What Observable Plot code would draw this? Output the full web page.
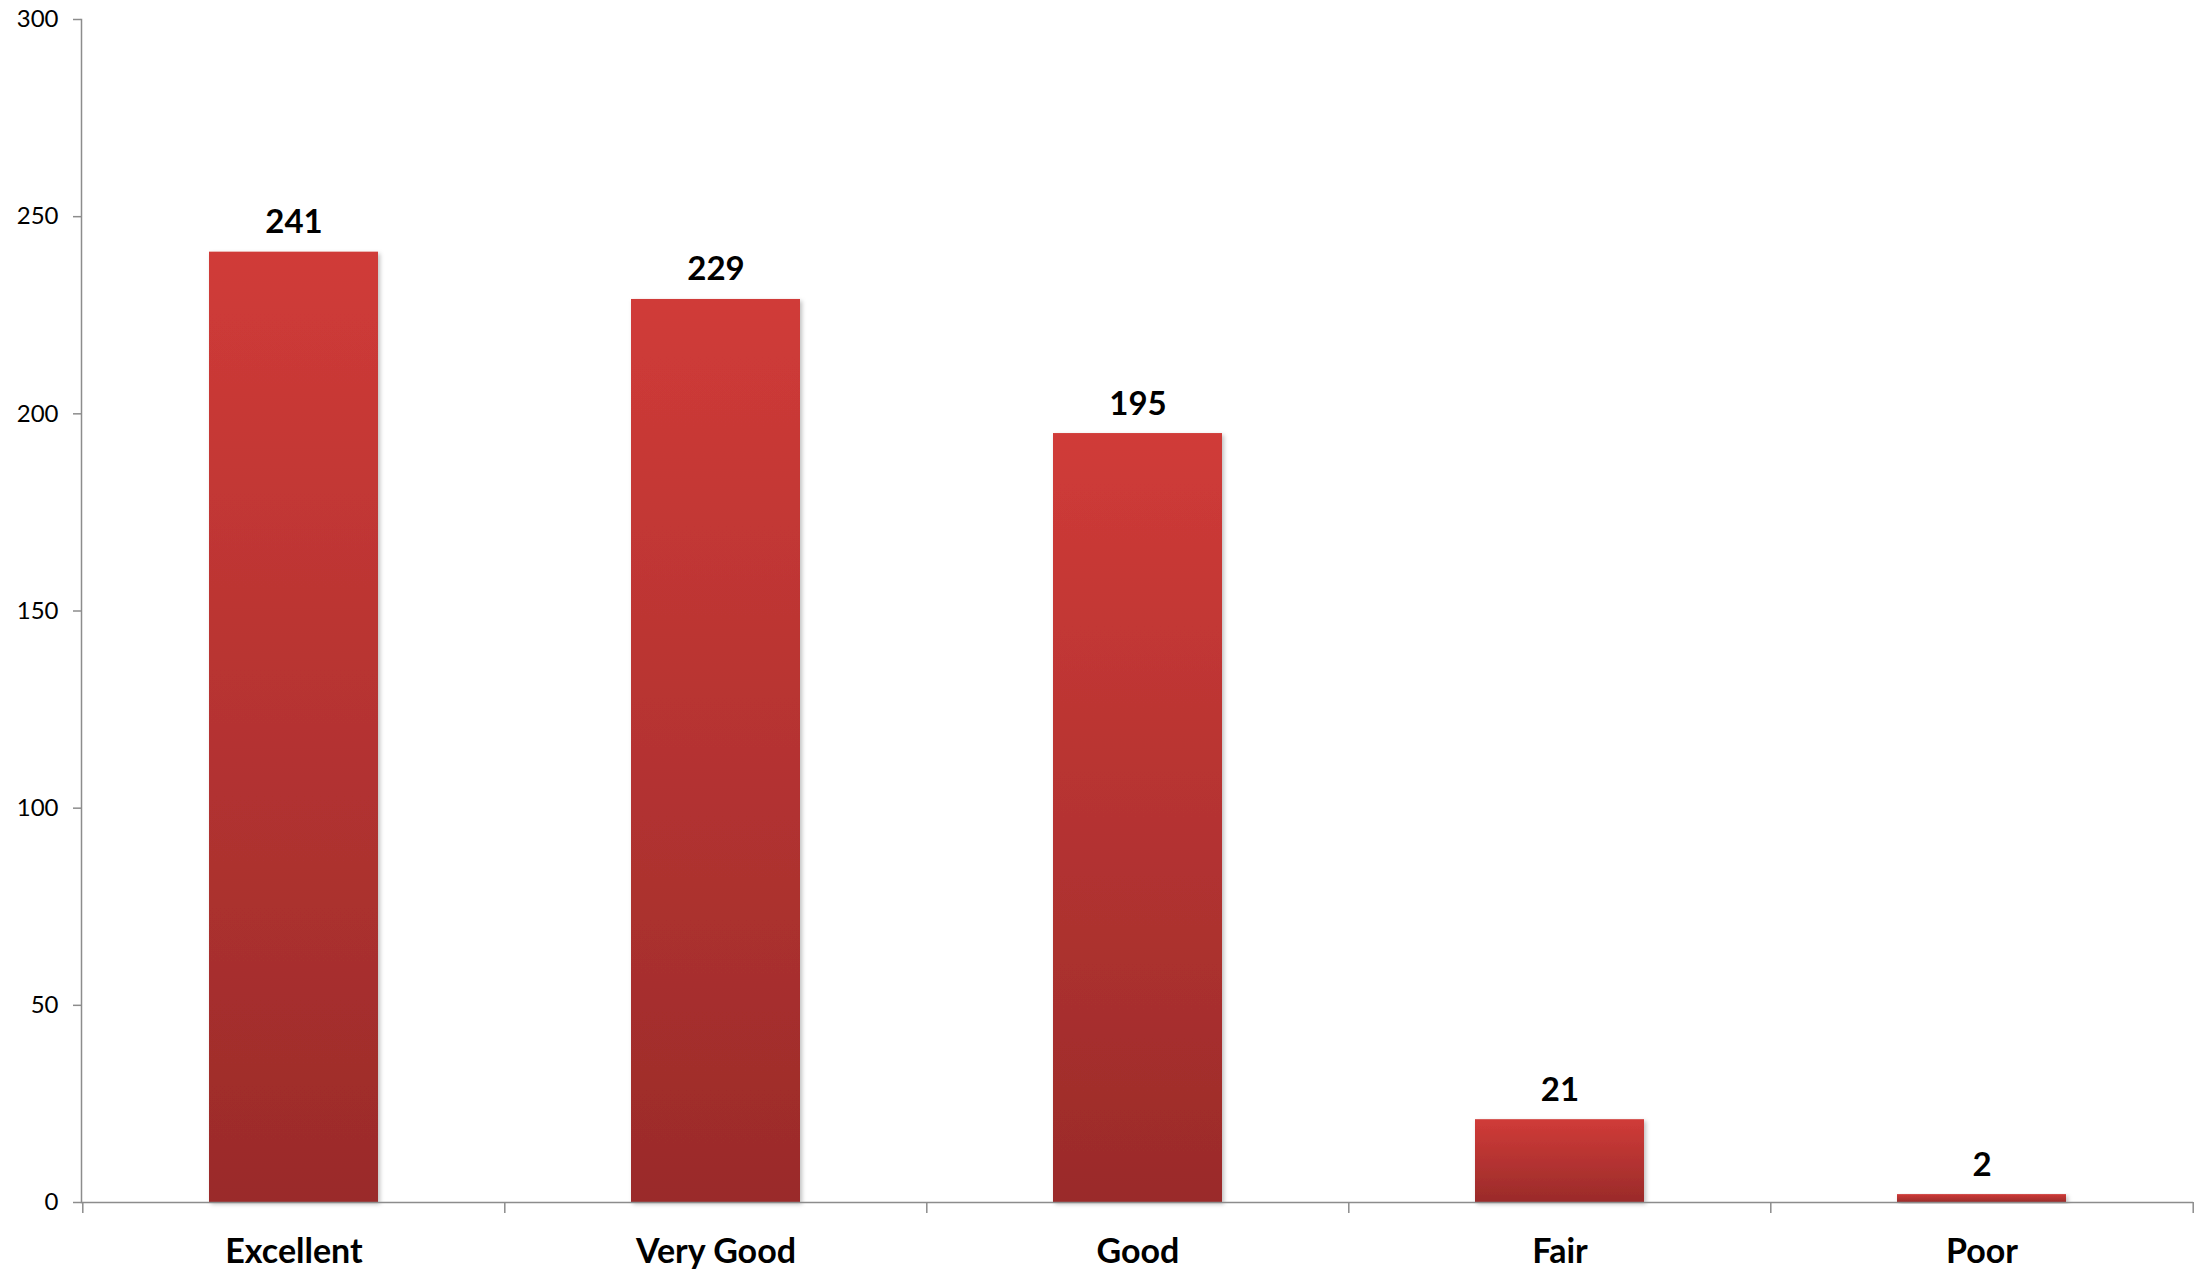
<!DOCTYPE html>
<html>
<head>
<meta charset="utf-8">
<script src="https://cdn.jsdelivr.net/npm/d3@7"></script>
<script src="https://cdn.jsdelivr.net/npm/@observablehq/plot@0.6"></script>
<style>
  html, body { margin: 0; padding: 0; background: #fff; }
  #chart svg { display: block; }
</style>
</head>
<body>
<div id="chart"></div>
<script>
const categories = ["Excellent", "Very Good", "Good", "Fair", "Poor"];
const counts = [241, 229, 195, 21, 2];
const yTicks = [0, 50, 100, 150, 200, 250, 300];

const data = categories.map((c, i) => ({category: c, count: counts[i]}));

const width = 2199, height = 1270;
const marginLeft = 81, marginRight = 6, marginTop = 19, marginBottom = 68;
const step = (width - marginLeft - marginRight) / categories.length;
const axisColor = "#8c8c8c";
const font = "Lato, 'Open Sans', sans-serif";

const plot = Plot.plot({
  width, height, marginLeft, marginRight, marginTop, marginBottom,
  style: {fontFamily: font, background: "#fff", color: "#000"},
  x: {domain: categories, paddingInner: 0.6, paddingOuter: 0.3, label: null},
  y: {domain: [0, 300], label: null},
  marks: [
    Plot.barY(data, {x: "category", y: "count", fill: "url(#barGrad)"}),
    Plot.ruleY([0], {stroke: axisColor, strokeWidth: 1.5}),
    Plot.frame({anchor: "left", stroke: axisColor, strokeWidth: 1.5}),
    Plot.axisY({ticks: yTicks, tickSize: 8, tickPadding: 15, fontSize: 24, stroke: axisColor, strokeWidth: 1.5, fill: "#000", label: null, tickFormat: d => String(d)}),
    Plot.axisX({ticks: categories, tickSize: 11, dx: -step / 2, text: null, stroke: axisColor, strokeWidth: 1.5, label: null}),
    Plot.axisX({ticks: [categories[categories.length - 1]], tickSize: 11, dx: step / 2, text: null, stroke: axisColor, strokeWidth: 1.5, label: null}),
    Plot.axisX({tickSize: 0, tickPadding: 36, fontSize: 34, fontWeight: "bold", fill: "#000", label: null}),
    Plot.text(data, {x: "category", y: "count", text: d => String(d.count), lineAnchor: "bottom", dy: -19, fontSize: 33, fontWeight: "bold", fill: "#000"})
  ]
});

const svg = d3.select(plot);
const defs = svg.insert("defs", ":first-child");
const grad = defs.append("linearGradient").attr("id", "barGrad").attr("x1", 0).attr("y1", 0).attr("x2", 0).attr("y2", 1);
grad.append("stop").attr("offset", "0%").attr("stop-color", "#d03b38");
grad.append("stop").attr("offset", "100%").attr("stop-color", "#9a2b2a");
const filt = defs.append("filter").attr("id", "barShadow").attr("x", "-10%").attr("y", "-10%").attr("width", "130%").attr("height", "130%");
filt.append("feDropShadow").attr("dx", 2).attr("dy", 2).attr("stdDeviation", 2).attr("flood-color", "#000").attr("flood-opacity", 0.25);
svg.selectAll("g[aria-label='bar'] rect").attr("filter", "url(#barShadow)");

document.getElementById("chart").appendChild(plot);
</script>
</body>
</html>
